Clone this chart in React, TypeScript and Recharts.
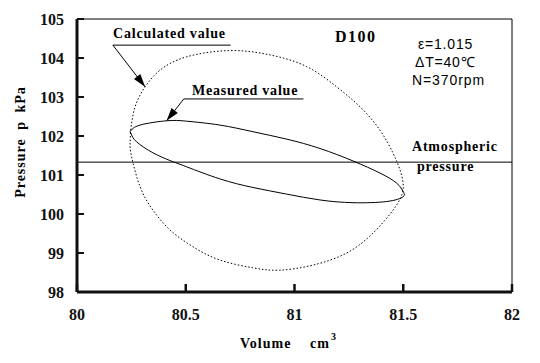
import React from 'react';
import { ComposedChart, Scatter, XAxis, YAxis, ReferenceLine } from 'recharts';

const xTicks = [80, 80.5, 81, 81.5, 82];
const yTicks = [98, 99, 100, 101, 102, 103, 104, 105];
const atmosphericPressure = 101.33;

// Calculated value (dotted loop): volume cm3 / pressure kPa
const calcVolume = [80.247, 80.267, 80.313, 80.382, 80.504, 80.703, 80.887, 81.056, 81.194, 81.301, 81.393, 81.453, 81.485, 81.499, 81.453, 81.361, 81.24, 81.085, 80.933, 80.809, 80.657, 80.533, 80.428, 80.349, 80.29, 80.251, 80.244, 80.247];
const calcPressure = [102.15, 102.75, 103.26, 103.69, 104.03, 104.19, 104.08, 103.78, 103.26, 102.75, 102.15, 101.56, 101.13, 100.62, 100.1, 99.51, 99.0, 98.69, 98.56, 98.62, 98.82, 99.16, 99.59, 100.1, 100.7, 101.47, 101.82, 102.15];

// Measured value (solid loop)
const measVolume = [80.244, 80.29, 80.412, 80.504, 80.657, 80.809, 80.964, 81.117, 81.269, 81.393, 81.47, 81.5, 81.499, 81.424, 81.269, 81.117, 80.964, 80.809, 80.657, 80.504, 80.428, 80.349, 80.274, 80.251, 80.244];
const measPressure = [102.11, 102.28, 102.39, 102.38, 102.28, 102.11, 101.92, 101.68, 101.36, 101.05, 100.79, 100.57, 100.44, 100.32, 100.29, 100.36, 100.51, 100.68, 100.9, 101.21, 101.37, 101.57, 101.85, 102.03, 102.11];

const calcData = calcVolume.map((x, i) => ({ x, y: calcPressure[i] }));
const measData = measVolume.map((x, i) => ({ x, y: measPressure[i] }));

const SERIF = '"Liberation Serif", "Times New Roman", serif';
const SANS = '"Liberation Sans", Arial, sans-serif';
const INK = '#111';

const YTick = (props: any) => {
  const { y, payload } = props;
  return (
    <g>
      <line x1={77} x2={84} y1={y} y2={y} stroke={INK} strokeWidth={2} />
      <text x={64} y={y + 6} textAnchor="end" fontFamily={SERIF} fontWeight="bold" fontSize={16} fill={INK}>
        {payload.value}
      </text>
    </g>
  );
};

const XTick = (props: any) => {
  const { x, payload } = props;
  return (
    <g>
      <line x1={x} x2={x} y1={292} y2={284} stroke={INK} strokeWidth={2.5} />
      <text x={x} y={320} textAnchor="middle" fontFamily={SERIF} fontWeight="bold" fontSize={16} fill={INK}>
        {payload.value}
      </text>
    </g>
  );
};

const ArrowShape = (props: any) => {
  const { x1, y1, x2, y2 } = props;
  const ang = Math.atan2(y2 - y1, x2 - x1);
  const len = 13;
  const w = 4;
  const bx = x2 - len * Math.cos(ang);
  const by = y2 - len * Math.sin(ang);
  const px = -Math.sin(ang) * w;
  const py = Math.cos(ang) * w;
  return (
    <g>
      <line x1={x1} y1={y1} x2={x2} y2={y2} stroke="#000" strokeWidth={1} />
      <polygon points={`${x2},${y2} ${bx + px},${by + py} ${bx - px},${by - py}`} fill="#000" />
    </g>
  );
};

const Annotations = () => (
  <svg width={540} height={363} style={{ position: 'absolute', left: 0, top: 0, pointerEvents: 'none' }}>
    <text x={113} y={38} fill="#000" fontFamily={SERIF} fontWeight="bold" fontSize={14} letterSpacing={0.8}>Calculated value</text>
    <text x={192} y={95} fill="#000" fontFamily={SERIF} fontWeight="bold" fontSize={14} letterSpacing={0.8}>Measured value</text>
    <text x={335} y={42} fill="#000" fontFamily={SERIF} fontWeight="bold" fontSize={16} letterSpacing={1.5}>D100</text>
    <text x={418} y={49} fill="#000" fontFamily={SANS} fontSize={14} letterSpacing={0.8}>ε=1.015</text>
    <text x={415} y={67} fill="#000" fontFamily={SANS} fontSize={14} letterSpacing={0.8}>ΔT=40℃</text>
    <text x={412} y={85} fill="#000" fontFamily={SANS} fontSize={14} letterSpacing={0.9}>N=370rpm</text>
    <text x={412} y={151} fill="#000" fontFamily={SERIF} fontWeight="bold" fontSize={14} letterSpacing={0.8}>Atmospheric</text>
    <text x={417} y={171} fill="#000" fontFamily={SERIF} fontWeight="bold" fontSize={14} letterSpacing={0.8}>pressure</text>
    <text x={240} y={348} fill="#000" fontFamily={SERIF} fontWeight="bold" fontSize={14} letterSpacing={1}>Volume</text>
    <text x={310} y={348} fill="#000" fontFamily={SERIF} fontWeight="bold" fontSize={14} letterSpacing={1}>cm</text>
    <text x={331} y={340} fill="#000" fontFamily={SERIF} fontWeight="bold" fontSize={10}>3</text>
    <text
      x={0}
      y={0}
      transform="translate(25,142) rotate(-90)"
      textAnchor="middle"
      fill="#000"
      fontFamily={SERIF}
      fontWeight="bold"
      fontSize={14}
      letterSpacing={1}
      style={{ wordSpacing: 4 }}
    >
      Pressure p kPa
    </text>
  </svg>
);

const NoDot = () => <g />;

export default function App() {
  return (
    <div style={{ position: 'absolute', left: 0, top: 0, width: 540, height: 363, background: '#fff' }}>
      <ComposedChart width={540} height={363} margin={{ top: 19, right: 28, left: 0, bottom: 0 }}>
        <XAxis
          dataKey="x"
          type="number"
          domain={[80, 82]}
          ticks={xTicks}
          axisLine={{ stroke: INK, strokeWidth: 3 }}
          tickLine={false}
          tick={(p: any) => <XTick {...p} />}
          height={71}
          interval={0}
        />
        <YAxis
          dataKey="y"
          type="number"
          domain={[98, 105]}
          ticks={yTicks}
          axisLine={{ stroke: INK, strokeWidth: 3 }}
          tickLine={false}
          tick={(p: any) => <YTick {...p} />}
          width={77}
          interval={0}
        />
        <ReferenceLine y={105} stroke="#000" strokeWidth={1} />
        <ReferenceLine x={82} stroke="#000" strokeWidth={1} />
        <ReferenceLine y={atmosphericPressure} stroke="#000" strokeWidth={1} />
        <ReferenceLine segment={[{ x: 80.165, y: 104.33 }, { x: 80.706, y: 104.33 }]} stroke="#000" strokeWidth={1} />
        <ReferenceLine segment={[{ x: 80.165, y: 104.33 }, { x: 80.313, y: 103.26 }]} shape={(p: any) => <ArrowShape {...p} />} />
        <ReferenceLine segment={[{ x: 80.491, y: 102.95 }, { x: 81.041, y: 102.95 }]} stroke="#000" strokeWidth={1} />
        <ReferenceLine segment={[{ x: 80.491, y: 102.95 }, { x: 80.412, y: 102.39 }]} shape={(p: any) => <ArrowShape {...p} />} />
        <Scatter data={calcData} fill="#000" line={{ stroke: '#000', strokeWidth: 1, strokeDasharray: '1.5 2' }} lineJointType="natural" shape={(p: any) => <NoDot {...p} />} isAnimationActive={false} />
        <Scatter data={measData} fill="#000" line={{ stroke: '#000', strokeWidth: 1 }} lineJointType="natural" shape={(p: any) => <NoDot {...p} />} isAnimationActive={false} />
      </ComposedChart>
      <Annotations />
    </div>
  );
}
